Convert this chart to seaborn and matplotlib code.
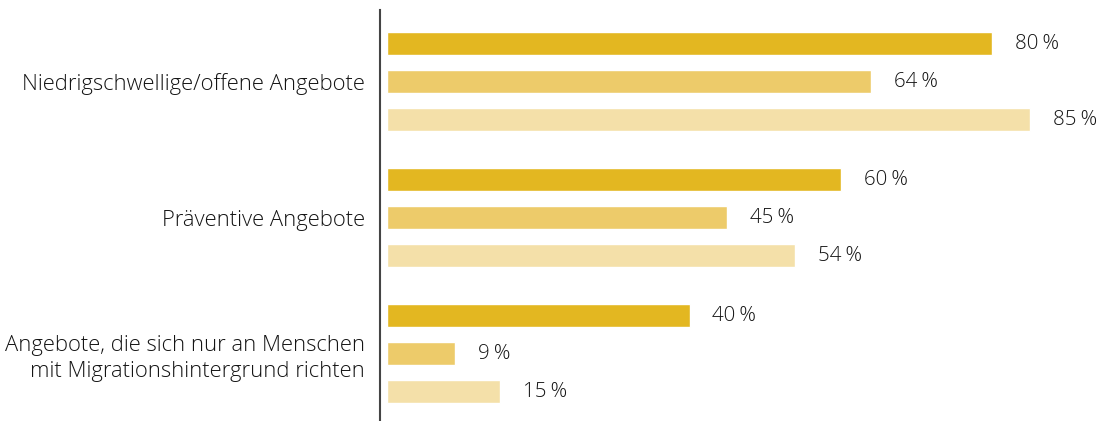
import pandas as pd
import matplotlib
matplotlib.use("Agg")
import matplotlib.pyplot as plt
import seaborn as sns

# Data
categories = [
    "Niedrigschwellige/offene Angebote",
    "Präventive Angebote",
    "Angebote, die sich nur an Menschen\nmit Migrationshintergrund richten",
]
series = ["A", "B", "C"]
values_a = [80, 60, 40]
values_b = [64, 45, 9]
values_c = [85, 54, 15]

COLORS = ["#E3B721", "#EDCB6A", "#F4E0A9"]
TEXT = "#141414"

rows = []
for cat, a, b, c in zip(categories, values_a, values_b, values_c):
    rows += [(cat, "A", a), (cat, "B", b), (cat, "C", c)]
df = pd.DataFrame(rows, columns=["category", "series", "value"])

sns.set_theme(style="white")
plt.rcParams["font.family"] = ["Open Sans", "DejaVu Sans"]
plt.rcParams["font.weight"] = "light"

fig = plt.figure(figsize=(10.98, 4.21), dpi=100)
ax = fig.add_axes([380 / 1098, 0, 718 / 1098, 411 / 421])

sns.barplot(
    data=df, y="category", x="value", hue="series", order=categories,
    hue_order=series, palette=COLORS, orient="h", width=0.838, gap=0.395,
    legend=False, ax=ax, saturation=1,
)

# value labels
for container in ax.containers:
    for bar in container:
        w = bar.get_width()
        ax.text(w + 3, bar.get_y() + bar.get_height() / 2, f"{w:.0f}\u2009%",
                va="center", ha="left", fontsize=14.8, color=TEXT)

ax.set_xlim(-0.93, 94.0)
ax.set_ylim(2.496, -0.526)
ax.set_xlabel("")
ax.set_ylabel("")
ax.set_xticks([])
ax.tick_params(axis="y", length=0, pad=11, labelsize=15.8, labelcolor=TEXT)
for lbl in ax.get_yticklabels():
    lbl.set_multialignment("right")
    lbl.set_linespacing(1.3)

for side in ["top", "right", "bottom"]:
    ax.spines[side].set_visible(False)
ax.spines["left"].set_color("#444444")
ax.spines["left"].set_linewidth(1.5)

fig.savefig("out.png", dpi=100)
